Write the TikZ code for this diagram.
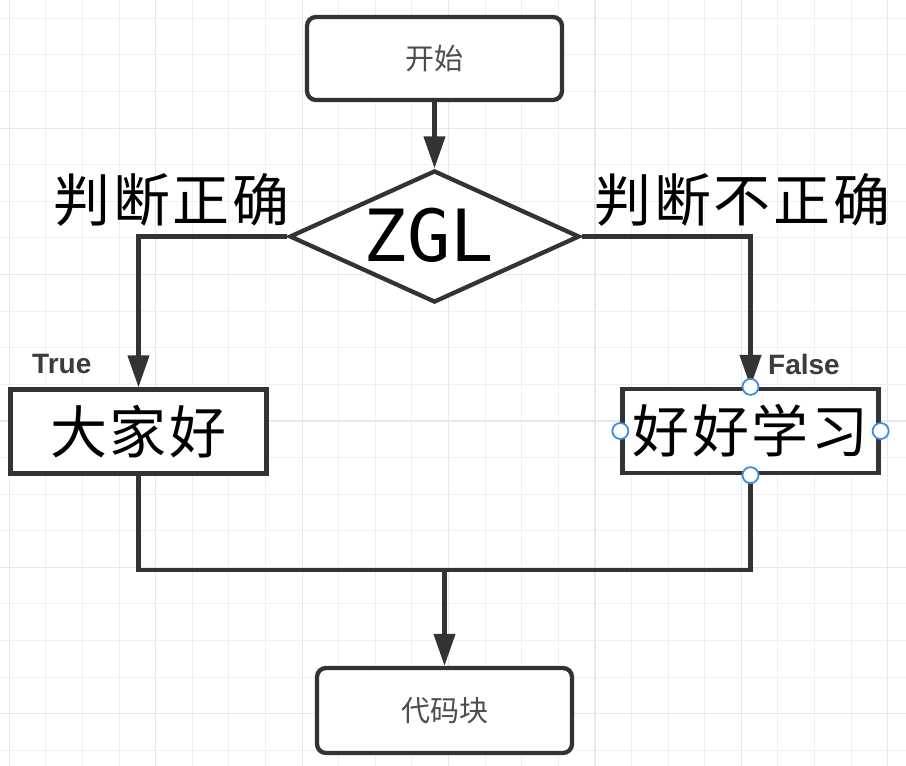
\documentclass[tikz,border=0pt]{standalone}
\usepackage{fontspec}
\usetikzlibrary{arrows.meta,shapes.geometric}
\newfontfamily\cjk{Noto Sans CJK SC}
\newfontfamily\cjkwide[LetterSpace=5]{Noto Sans CJK SC}
\newfontfamily\zglfont{DejaVu Sans Mono}
\newfontfamily\tflabel{Liberation Sans}
\definecolor{edgecol}{HTML}{333333}
\definecolor{gridminor}{HTML}{F0F0F0}
\definecolor{gridmajor}{HTML}{E8E8E8}
\definecolor{handlecol}{HTML}{3A8EE6}
\definecolor{smalltext}{HTML}{4D4D4D}
\definecolor{tfcol}{HTML}{3C3C3C}
\begin{document}
\begin{tikzpicture}[x=1pt,y=-1pt,
  box/.style={draw=edgecol, line width=4.3pt, fill=white, inner sep=0pt},
  roundbox/.style={box, rounded corners=9pt, minimum width=255pt, minimum height=83pt,
    font=\cjk\fontsize{29}{29}\selectfont, text=smalltext},
  bigbox/.style={box, minimum width=256pt, minimum height=84pt,
    font=\cjkwide\fontsize{57}{57}\selectfont},
  decision/.style={diamond, draw=edgecol, line width=4.3pt, fill=white,
    minimum width=290pt, minimum height=132pt, inner sep=0pt},
  conn/.style={draw=edgecol, line width=4.3pt},
  arr/.style={conn, -{Triangle[length=32pt,width=21pt]}},
  bigtext/.style={font=\cjkwide\fontsize{57}{57}\selectfont, inner sep=0pt},
  tf/.style={font=\tflabel\bfseries\fontsize{28}{28}\selectfont, text=tfcol, inner sep=0pt},
  handlept/.style={circle, draw=handlecol, fill=white, line width=1.8pt,
    minimum size=16pt, inner sep=0pt}]

% background and bounding box
\fill[white] (0,0) rectangle (906,766);
\useasboundingbox (0,0) rectangle (906,766);

% grid
\foreach \i in {0,...,24} {
  \pgfmathsetmacro\xx{9.3+36.6*\i}
  \pgfmathtruncatemacro\mm{mod(\i,4)}
  \ifnum\mm=0
    \draw[gridmajor, line width=1.2pt] (\xx,0) -- (\xx,766);
  \else
    \draw[gridminor, line width=1pt] (\xx,0) -- (\xx,766);
  \fi
}
\foreach \i in {0,...,22} {
  \pgfmathsetmacro\yy{-18.3+36.6*\i}
  \pgfmathtruncatemacro\mm{mod(\i,4)}
  \ifnum\mm=0
    \draw[gridmajor, line width=1.2pt] (0,\yy) -- (906,\yy);
  \else
    \draw[gridminor, line width=1pt] (0,\yy) -- (906,\yy);
  \fi
}

% nodes
\node[roundbox] (start) at (434.5,58.5) {开始};
\node[decision] (dec) at (434.5,236.5) {};
\node[font=\zglfont\fontsize{72}{72}\selectfont, inner sep=0pt] (zgl) at (429,235) {ZGL};
\node[bigbox] (yes) at (138.5,431.5) {大家好};
\node[bigbox] (no) at (750.5,431) {好好学习};
\node[roundbox, minimum height=85pt] (end) at (444.5,710.5) {代码块};

% labels
\node[bigtext] (ltrue) at (171.5,200) {判断正确};
\node[bigtext] (lfalse) at (742.5,200) {判断不正确};
\node[tf, anchor=west] (ttrue) at (32,364) {True};
\node[tf, anchor=west] (tfalse) at (768,364) {False};

% connectors
\coordinate (join) at (444.5,570);
\draw[arr] (start.south) -- (dec.north);
\draw[arr] (dec.west) -| (yes.north);
\draw[arr] (dec.east) -| (no.north);
\draw[conn] (yes.south) |- (join) -| (no.south);
\draw[arr] (join) -- (end.north);

% selection handles
\node[handlept] (hn) at (no.north) {};
\node[handlept] (hs) at (no.south) {};
\node[handlept] (hw) at (no.west) {};
\node[handlept] (he) at (no.east) {};
\end{tikzpicture}
\end{document}
